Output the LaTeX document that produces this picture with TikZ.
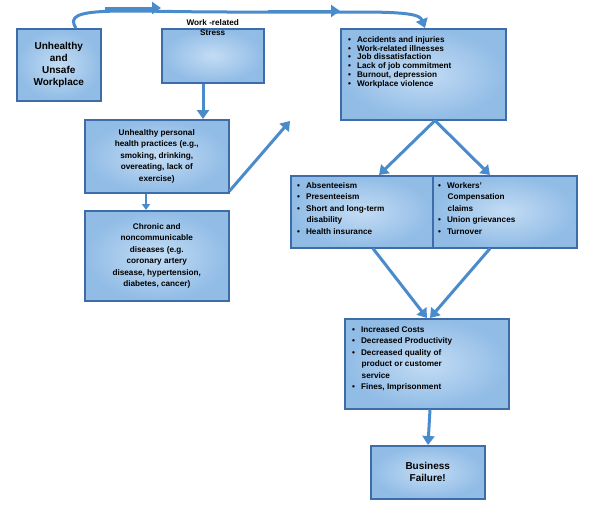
\documentclass[tikz,border=0pt]{standalone}
\usepackage{fontspec}
\setmainfont{Liberation Sans}
\usetikzlibrary{arrows.meta}
\definecolor{bord}{RGB}{62,108,168}
\definecolor{arr}{RGB}{74,139,203}
\definecolor{fin}{RGB}{195,220,244}
\definecolor{fout}{RGB}{145,188,230}
\begin{document}
\begin{tikzpicture}[x=1pt,y=-1pt,
  box/.style={draw=bord,line width=1.5pt,inner color=fin,outer color=fout,minimum width=#1,anchor=north west,inner sep=0pt},
  txt/.style={font=\bfseries\fontsize{8.2}{10}\selectfont,align=center,inner sep=0pt},
  lst/.style={font=\bfseries\fontsize{8.2}{8.9}\selectfont,align=left,inner sep=0pt,anchor=north west},
  ar/.style={draw=arr,line width=3pt,-{Triangle[width=12pt,length=9pt]}}]
\useasboundingbox (0,0) rectangle (602,528);
\newcommand{\bl}{\textbullet\hspace{6pt}}
% boxes
\node[box=84pt,minimum height=72pt] (A) at (16,28) {};
\node[txt,font=\bfseries\fontsize{10}{12}\selectfont] (At) at (A.center) {Unhealthy\\and\\Unsafe\\Workplace};
\node[box=102pt,minimum height=54pt] (B) at (161,28) {};
\node[txt,anchor=north] (Bt) at ([yshift=9pt]B.north) {Work -related\\Stress};
\node[box=165pt,minimum height=91pt] (C) at (340,28) {};
\node[lst] (Ct) at (348,36) {\bl Accidents and injuries\\\bl Work-related illnesses\\\bl Job dissatisfaction\\\bl Lack of job commitment\\\bl Burnout, depression\\\bl Workplace violence};
\node[box=144pt,minimum height=73pt] (D) at (84,119) {};
\node[txt,font=\bfseries\fontsize{8.2}{11.5}\selectfont] (Dt) at (D.center) {Unhealthy personal\\health practices (e.g.,\\smoking, drinking,\\overeating, lack of\\exercise)};
\node[box=144pt,minimum height=90pt] (E) at (84,210) {};
\node[txt,font=\bfseries\fontsize{8.2}{11.5}\selectfont] (Et) at (E.center) {Chronic and\\noncommunicable\\diseases (e.g.\\coronary artery\\disease, hypertension,\\diabetes, cancer)};
\node[box=142pt,minimum height=72pt] (F) at (290,175) {};
\node[lst,font=\bfseries\fontsize{8.2}{11.5}\selectfont] (Ft) at (297,182) {\bl Absenteeism\\\bl Presenteeism\\\bl Short and long-term\\\hspace*{9.5pt}disability\\\bl Health insurance};
\node[box=144pt,minimum height=72pt] (G) at (432,175) {};
\node[lst,font=\bfseries\fontsize{8.2}{11.5}\selectfont] (Gt) at (438,182) {\bl Workers'\\\hspace*{9.5pt}Compensation\\\hspace*{9.5pt}claims\\\bl Union grievances\\\bl Turnover};
\node[box=164pt,minimum height=90pt] (H) at (344,318) {};
\node[lst,font=\bfseries\fontsize{8.2}{11.5}\selectfont] (Ht) at (352,326) {\bl Increased Costs\\\bl Decreased Productivity\\\bl Decreased quality of\\\hspace*{9.5pt}product or customer\\\hspace*{9.5pt}service\\\bl Fines, Imprisonment};
\node[box=114pt,minimum height=53pt] (I) at (370,445) {};
\node[txt,font=\bfseries\fontsize{10}{12}\selectfont] (It) at (I.center) {Business\\Failure!};
% arrows
\draw[ar] ([yshift=20pt]A.north east) ++(3,0) -- ([yshift=20pt]B.north west);
\draw[ar] ([yshift=17pt]B.north east) ++(3,0) -- ([yshift=17pt]C.north west);
\draw[ar] ([xshift=60pt]A.north west) .. controls (60,5) and (120,12) .. (230,12) -- (360,12) .. controls (410,12) and (420,15) .. ([xshift=85pt]C.north west);
\draw[ar] ([xshift=42pt]B.south west) -- ([xshift=119pt]D.north west);
\draw[ar,line width=2pt,-{Triangle[width=8pt,length=6pt]}] ([xshift=62pt]D.south west) -- ([xshift=62pt]E.north west);
\draw[ar] ([yshift=19pt]E.north east) -- ([yshift=54pt]F.north west);
\draw[ar] ([xshift=95pt]C.south west) -- ([xshift=89pt]F.north west);
\draw[ar] ([xshift=95pt]C.south west) -- ([xshift=58pt]G.north west);
\draw[ar] ([xshift=83pt]F.south west) -- ([xshift=83pt]H.north west);
\draw[ar] ([xshift=58pt]G.south west) -- ([xshift=86pt]H.north west);
\draw[ar] ([xshift=86pt]H.south west) -- ([xshift=58pt]I.north west);
\end{tikzpicture}
\end{document}
